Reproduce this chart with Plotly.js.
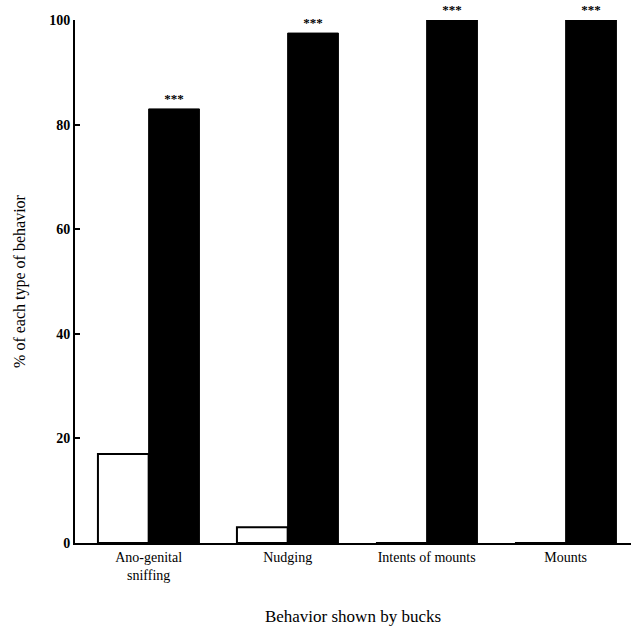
<!DOCTYPE html>
<html>
<head>
<meta charset="utf-8">
<script src="https://cdn.plot.ly/plotly-3.0.1.min.js"></script>
<style>html,body{margin:0;padding:0;background:#fff;}#chart{width:637px;height:626px;}</style>
</head>
<body>
<div id="chart"></div>
<script>
const categories = ["Ano-genital<br>sniffing", "Nudging", "Intents of mounts", "Mounts"];
const whiteValues = [17, 3, 0, 0];
const blackValues = [83, 97.5, 100, 100];
const significance = ["***", "***", "***", "***"];
const yTicks = [0, 20, 40, 60, 80, 100];

const serif = "Liberation Serif, Times New Roman, serif";

const traces = [
  {
    type: "bar",
    x: categories,
    y: whiteValues,
    marker: {color: "#ffffff", line: {color: "#000000", width: 2}},
    hoverinfo: "skip"
  },
  {
    type: "bar",
    x: categories,
    y: blackValues,
    marker: {color: "#000000", line: {color: "#000000", width: 1}},
    text: significance,
    textposition: "outside",
    textfont: {family: serif, size: 13, color: "#000000", weight: "bold"},
    outsidetextfont: {family: serif, size: 13, color: "#000000", weight: "bold"},
    constraintext: "none",
    cliponaxis: false,
    hoverinfo: "skip"
  }
];

const layout = {
  width: 637,
  height: 626,
  margin: {l: 75, r: 6, t: 20, b: 83},
  paper_bgcolor: "#ffffff",
  plot_bgcolor: "#ffffff",
  showlegend: false,
  barmode: "group",
  bargap: 0.27,
  bargroupgap: 0,
  font: {family: serif, color: "#000", size: 13},
  xaxis: {
    type: "category",
    range: [-0.53, 3.47],
    showline: true,
    linecolor: "#000",
    linewidth: 2,
    ticks: "",
    showgrid: false,
    zeroline: false,
    tickfont: {family: serif, size: 14, color: "#000"},
    title: {text: "Behavior shown by bucks", font: {family: serif, size: 17, color: "#000"}, standoff: 30}
  },
  yaxis: {
    range: [0, 100],
    tickvals: yTicks,
    ticktext: yTicks.map(String),
    showline: true,
    linecolor: "#000",
    linewidth: 2,
    ticks: "inside",
    ticklen: 5,
    tickwidth: 2,
    tickcolor: "#000",
    showgrid: false,
    zeroline: false,
    tickfont: {family: serif, size: 14, color: "#000", weight: "bold"},
    title: {text: "% of each type of behavior", font: {family: serif, size: 16, color: "#000"}, standoff: 20}
  }
};

Plotly.newPlot("chart", traces, layout, {displayModeBar: false, staticPlot: true});
</script>
</body>
</html>
